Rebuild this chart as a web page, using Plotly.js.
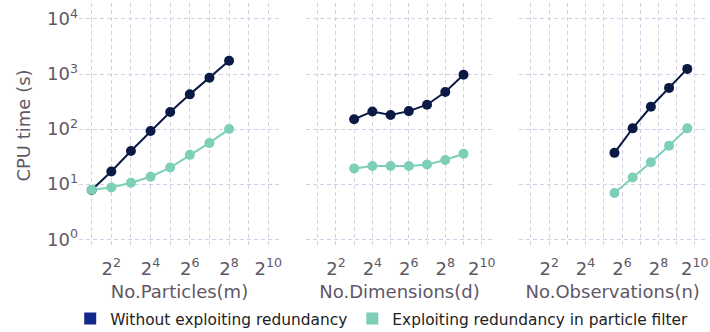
<!DOCTYPE html>
<html>
<head>
<meta charset="utf-8">
<script src="https://cdn.plot.ly/plotly-3.0.1.min.js"></script>
<style>html,body{margin:0;padding:0;background:#fff;}#chart{width:710px;height:332px;}</style>
</head>
<body>
<div id="chart"></div>
<script>
// ---- data ----
const particles = [2, 4, 8, 16, 32, 64, 128, 256];
const particlesWithout = [7.8, 17, 40, 92, 204, 427, 857, 1740];
const particlesWith = [7.9, 8.7, 10.6, 13.6, 20, 34, 56, 100];

const dimensions = [8, 16, 32, 64, 128, 256, 512];
const dimensionsWithout = [151, 209, 180, 212, 277, 470, 970];
const dimensionsWith = [19.3, 21.3, 21.3, 21.3, 22.8, 27.4, 35.6];

const observations = [48, 96, 192, 384, 768];
const observationsWithout = [37, 103, 254, 560, 1240];
const observationsWith = [6.9, 13.2, 25, 50, 103];

const seriesNames = ["Without exploiting redundancy", "Exploiting redundancy in particle filter"];
const xTitles = ["No.Particles(m)", "No.Dimensions(d)", "No.Observations(n)"];
const yTitle = "CPU time (s)";

const xTickVals = [2, 4, 8, 16, 32, 64, 128, 256, 512, 1024];
const xTickText = ["", "2<sup>2</sup>", "", "2<sup>4</sup>", "", "2<sup>6</sup>", "", "2<sup>8</sup>", "", "2<sup>10</sup>"];
const yTickVals = [1, 10, 100, 1000, 10000];
const yTickText = ["10<sup>0</sup>", "10<sup>1</sup>", "10<sup>2</sup>", "10<sup>3</sup>", "10<sup>4</sup>"];

// ---- styles ----
const navy = "#0b1a45";
const teal = "#7dcfb8";
const navyLegend = "#13288a";
const textGrey = "#5f5866";
const gridCol = "#d2d0e6";
const font = "DejaVu Sans";

const panels = [
  [particles, particlesWithout, particlesWith],
  [dimensions, dimensionsWithout, dimensionsWith],
  [observations, observationsWithout, observationsWith]
];

const traces = [];
panels.forEach((p, i) => {
  const xa = i === 0 ? "x" : "x" + (i + 1);
  const ya = i === 0 ? "y" : "y" + (i + 1);
  traces.push({type: "scatter", mode: "lines+markers", x: p[0], y: p[1], xaxis: xa, yaxis: ya,
    line: {color: navy, width: 2}, marker: {color: navy, size: 10}, showlegend: false, hoverinfo: "skip"});
  traces.push({type: "scatter", mode: "lines+markers", x: p[0], y: p[2], xaxis: xa, yaxis: ya,
    line: {color: teal, width: 2}, marker: {color: teal, size: 10}, showlegend: false, hoverinfo: "skip"});
});
// legend entries
traces.push({type: "bar", x: [null], y: [null], name: seriesNames[0], marker: {color: navyLegend}, showlegend: true, hoverinfo: "skip"});
traces.push({type: "bar", x: [null], y: [null], name: seriesNames[1], marker: {color: teal}, showlegend: true, hoverinfo: "skip"});

const domains = [[0, 0.3196], [0.3604, 0.6587], [0.6995, 0.9975]];
const xRanges = [[0.1063, 3.190], [0.1027, 3.202], [0.1027, 3.202]];

function xaxis(i) {
  return {
    type: "log", domain: domains[i], range: xRanges[i], anchor: i === 0 ? "y" : "y" + (i + 1),
    tickmode: "array", tickvals: xTickVals, ticktext: xTickText,
    showgrid: true, gridcolor: gridCol, griddash: "4px,3px", gridwidth: 1,
    zeroline: false, showline: false, ticks: "", ticklabelstandoff: 8,
    tickfont: {family: font, size: 18, color: textGrey},
    title: {text: xTitles[i], font: {family: font, size: 18, color: textGrey}, standoff: 14},
    automargin: false
  };
}
function yaxis(i) {
  return {
    type: "log", range: [-0.16, 4.29], domain: [0, 1], anchor: i === 0 ? "x" : "x" + (i + 1),
    tickmode: "array", tickvals: yTickVals, ticktext: yTickText, showticklabels: i === 0,
    showgrid: true, gridcolor: gridCol, griddash: "4px,3px", gridwidth: 1,
    zeroline: false, showline: false, ticks: "",
    tickfont: {family: font, size: 18, color: textGrey},
    title: i === 0 ? {text: yTitle, font: {family: font, size: 18, color: textGrey}, standoff: 11} : {text: ""},
    automargin: false
  };
}

const layout = {
  width: 710, height: 332,
  margin: {l: 79, r: 2, t: 3, b: 84},
  paper_bgcolor: "#ffffff", plot_bgcolor: "#ffffff",
  font: {family: font, color: textGrey},
  showlegend: true,
  legend: {orientation: "h", xref: "container", yref: "container", x: 0.0989, xanchor: "left",
    y: 0.039, yanchor: "middle",
    font: {family: font, size: 15.4, color: "#222222"}, bgcolor: "rgba(0,0,0,0)", traceorder: "normal"},
  xaxis: xaxis(0), xaxis2: xaxis(1), xaxis3: xaxis(2),
  yaxis: yaxis(0), yaxis2: yaxis(1), yaxis3: yaxis(2)
};

Plotly.newPlot("chart", traces, layout, {displayModeBar: false, staticPlot: true});
</script>
</body>
</html>
